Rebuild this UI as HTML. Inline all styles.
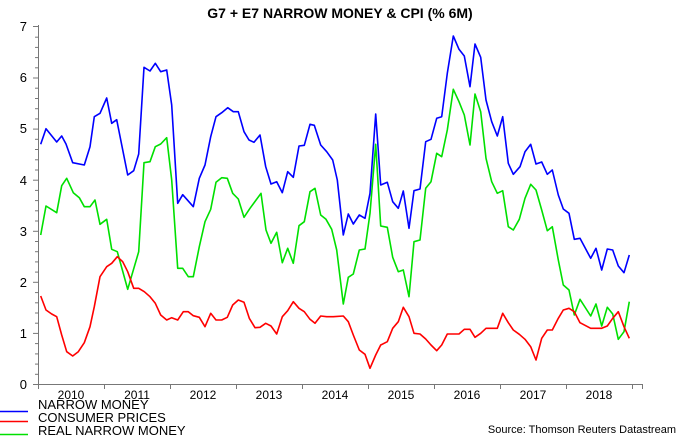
<!DOCTYPE html>
<html><head><meta charset="utf-8"><style>
body{margin:0;background:#fff}
svg{display:block;font-family:"Liberation Sans",Arial,sans-serif}
</style></head><body>
<svg width="680" height="436" viewBox="0 0 680 436" xmlns="http://www.w3.org/2000/svg">
<text x="340" y="18" text-anchor="middle" font-size="14" font-weight="bold">G7 + E7 NARROW MONEY &amp; CPI (% 6M)</text>
<g stroke="#777" stroke-width="1" fill="none">
<line x1="38.5" y1="25" x2="38.5" y2="384"/>
<line x1="38" y1="384.5" x2="643" y2="384.5"/>
</g>
<g font-size="13" text-anchor="end" fill="#000">
<text x="27" y="389">0</text><text x="27" y="338">1</text><text x="27" y="287">2</text><text x="27" y="236">3</text><text x="27" y="185">4</text><text x="27" y="133">5</text><text x="27" y="82">6</text><text x="27" y="31">7</text>
</g>
<g font-size="12" text-anchor="middle">
<text x="71" y="399">2010</text><text x="137" y="399">2011</text><text x="203" y="399">2012</text><text x="269" y="399">2013</text><text x="335" y="399">2014</text><text x="401" y="399">2015</text><text x="467" y="399">2016</text><text x="533" y="399">2017</text><text x="599" y="399">2018</text>
</g>
<g fill="none" stroke-width="1.6" stroke-linejoin="round">
<polyline stroke="#00e000" points="40.7,235 46,206 56.7,212.7 61.7,185.7 66.7,178.3 73.3,192.7 79.3,197.7 84.3,206.7 90,206.7 95,200 100,224.3 106.7,219.3 111.7,249.3 117.3,251.7 127.7,289.3 138.7,251.7 144,162.7 150,161.7 155.3,146.7 160.7,144 166.7,137.7 171.7,180 177.7,268.3 182.7,268.3 188.3,276.7 193.3,276.7 199.3,246.7 205,221.7 210.7,209.3 216,182.3 221.7,177.7 227.3,178.3 232.7,193.3 238.3,199 244,217.3 250,208.3 261,193.3 266,230 271,243.3 276.7,232.3 282.3,262.7 287.7,248.3 293.3,263.3 299,225.7 304.3,221.7 310,191.7 315,188.3 320.7,215 326,219.3 331.7,229.3 336.7,250 343.3,304 348.3,277.3 353.3,274 359.3,250 365,249 370,213.3 375.7,144.3 380.7,226 387.3,227.3 392.7,257.3 398.3,271.7 403.3,270 409,296.7 414,241.7 420,240 425.7,188.3 431,181.7 436.7,153.3 441.7,156.7 447.3,130 453.3,89.3 459,101.7 464.3,115 470,145 475,94 480.7,111.7 486,158.3 491.7,181.7 497.3,193.3 502.7,190.7 508.3,226.7 513.3,230 519.3,219.3 525,198.3 530.7,184.3 536,190 541.7,210 547.3,230.7 552.3,226.7 558.3,260 563.3,285 569,290 574.3,315 580,299.3 590.7,316 596,304 601.7,326 607.3,307.3 612.7,314 618.3,339.3 624,331.7 629.3,301.7"/>
<polyline stroke="#ff0000" points="40.7,296 46,310 51.7,314 56.7,316.7 61.7,335 66.7,351.7 72.7,356 78.3,351.7 84.3,342.7 90,326.7 94.3,306.7 100,276.7 106.7,266.7 111.7,263.3 117.3,256.7 122.7,261.7 127.7,271.7 133.7,288.3 138.7,288.3 144.3,291.7 150,296.7 155.3,303.3 160.7,315 166.7,320 171.7,317.7 177.7,320 183.3,311.7 188.3,311.7 193.3,315.7 199.3,317.3 205,326.7 210.7,313.3 216,320 221.7,320 227.3,317.3 232.7,305 238.3,300 244,302.3 249.3,318.3 255,327.7 260,327.3 265.7,323.3 271,326 276.7,334 282.3,316.7 287.7,310.7 293.3,301.7 299,308.3 304.3,311.7 310,319.3 315,323.3 320.7,316 326.7,316.7 333.3,316.7 343.3,316 348.3,321.7 353.3,335 359.3,350 365,354.3 370,368.3 375.7,355 380.7,345 387.3,341.7 392.7,328.3 398.3,321.7 403.3,307.3 409,316.7 414,333.3 420,334 425.7,339 431,345 436.7,350.7 441.7,345 447.3,334 453.3,334 459,334 464.3,329.3 470,329.3 475,337.3 480.7,333.3 486,328.3 497.3,328.3 502.7,313.3 508.3,322.7 513.3,330 519.3,334.3 525,339.3 530.7,346.7 536,360 541.7,338.3 547.3,330 552.3,330 558.3,318.3 563.3,310 569,308.3 574.3,311.7 580,322.7 590.7,328.3 601.7,328.3 607.3,326 612.7,318.3 618.3,311.7 624,326.7 629.3,338.3"/>
<polyline stroke="#0000ff" points="40.7,144.3 46,128.7 56.7,142 61.7,136 66,144 72.7,162.7 84.3,165 90,146.7 94.3,116.7 100,113.3 106.7,98 111.7,123.3 116.7,119.7 127.7,175 133.7,170.7 138.7,154 144,67.3 150,71 155.3,63.3 160.7,71.7 166.7,70 171.7,105 177.7,203.3 182.7,194.7 193.3,206.7 199.3,178.3 205,165 210.7,136.7 216,116.7 221.7,112.7 227.7,107.7 233.3,111.7 238.3,111.7 244,131.7 249,140 254,142.3 260,135 265.7,166.7 271,184 276.7,181.7 282.3,192.7 287.7,171.7 293.3,177.3 299,146 304.3,145.3 310,124.3 314.3,125.3 320.7,145 326.7,151.7 332.7,160 337.3,180 343.3,235 348.3,214 353.3,224 359.3,215 365,218.3 370,193.3 375.7,114 380.7,185 387.3,182.3 392.7,201.7 398.3,208.3 403.3,191 409,228.3 414,190.7 420,189 425.7,141.7 431,139.3 436.7,118.3 441.7,116.7 447.3,73.3 453.3,36 459,49.3 464.3,56 470,86.7 475,44 480.7,57.3 486,100 491.7,121.7 497.3,136 502.7,116.7 508.3,163.3 513.3,174.3 520,166.7 525,151.7 530.7,144.3 536,164 541.7,162 547.3,174.3 552.3,170 558.3,195 563.3,209 569,213.3 574.3,239.3 580,238.3 590.7,258.3 596,248.3 601.7,270 607.3,249 612.7,250 618.3,266 624,272.7 629.3,255"/>
</g>
<g stroke-width="1.5">
<line x1="0" y1="411.5" x2="28" y2="411.5" stroke="#0000ff"/>
<line x1="0" y1="421.5" x2="28" y2="421.5" stroke="#ff0000"/>
<line x1="0" y1="434.5" x2="28" y2="434.5" stroke="#00e000"/>
</g>
<g font-size="13">
<text x="38" y="409">NARROW MONEY</text>
<text x="38" y="422">CONSUMER PRICES</text>
<text x="38" y="435">REAL NARROW MONEY</text>
</g>
<text x="676" y="433" font-size="11" text-anchor="end">Source: Thomson Reuters Datastream</text>
<g stroke="#777" stroke-width="1">
<line x1="33" y1="384.5" x2="38" y2="384.5"/><line x1="35" y1="374.3" x2="38" y2="374.3"/><line x1="35" y1="364.1" x2="38" y2="364.1"/><line x1="35" y1="353.9" x2="38" y2="353.9"/><line x1="35" y1="343.6" x2="38" y2="343.6"/>
<line x1="33" y1="333.4" x2="38" y2="333.4"/><line x1="35" y1="323.2" x2="38" y2="323.2"/><line x1="35" y1="313" x2="38" y2="313"/><line x1="35" y1="302.8" x2="38" y2="302.8"/><line x1="35" y1="292.6" x2="38" y2="292.6"/>
<line x1="33" y1="282.3" x2="38" y2="282.3"/><line x1="35" y1="272.1" x2="38" y2="272.1"/><line x1="35" y1="261.9" x2="38" y2="261.9"/><line x1="35" y1="251.7" x2="38" y2="251.7"/><line x1="35" y1="241.5" x2="38" y2="241.5"/>
<line x1="33" y1="231.3" x2="38" y2="231.3"/><line x1="35" y1="221" x2="38" y2="221"/><line x1="35" y1="210.8" x2="38" y2="210.8"/><line x1="35" y1="200.6" x2="38" y2="200.6"/><line x1="35" y1="190.4" x2="38" y2="190.4"/>
<line x1="33" y1="180.2" x2="38" y2="180.2"/><line x1="35" y1="170" x2="38" y2="170"/><line x1="35" y1="159.8" x2="38" y2="159.8"/><line x1="35" y1="149.5" x2="38" y2="149.5"/><line x1="35" y1="139.3" x2="38" y2="139.3"/>
<line x1="33" y1="129.1" x2="38" y2="129.1"/><line x1="35" y1="118.9" x2="38" y2="118.9"/><line x1="35" y1="108.7" x2="38" y2="108.7"/><line x1="35" y1="98.5" x2="38" y2="98.5"/><line x1="35" y1="88.2" x2="38" y2="88.2"/>
<line x1="33" y1="78" x2="38" y2="78"/><line x1="35" y1="67.8" x2="38" y2="67.8"/><line x1="35" y1="57.6" x2="38" y2="57.6"/><line x1="35" y1="47.4" x2="38" y2="47.4"/><line x1="35" y1="37.2" x2="38" y2="37.2"/>
<line x1="33" y1="26.5" x2="38" y2="26.5"/>
<line x1="38.5" y1="384" x2="38.5" y2="389"/><line x1="104.5" y1="384" x2="104.5" y2="389"/><line x1="170.5" y1="384" x2="170.5" y2="389"/><line x1="236.5" y1="384" x2="236.5" y2="389"/><line x1="302.5" y1="384" x2="302.5" y2="389"/><line x1="368.5" y1="384" x2="368.5" y2="389"/><line x1="434.5" y1="384" x2="434.5" y2="389"/><line x1="500.5" y1="384" x2="500.5" y2="389"/><line x1="566.5" y1="384" x2="566.5" y2="389"/><line x1="632.5" y1="384" x2="632.5" y2="389"/><line x1="642.5" y1="384" x2="642.5" y2="389"/>
</g>
</svg>
</body></html>
